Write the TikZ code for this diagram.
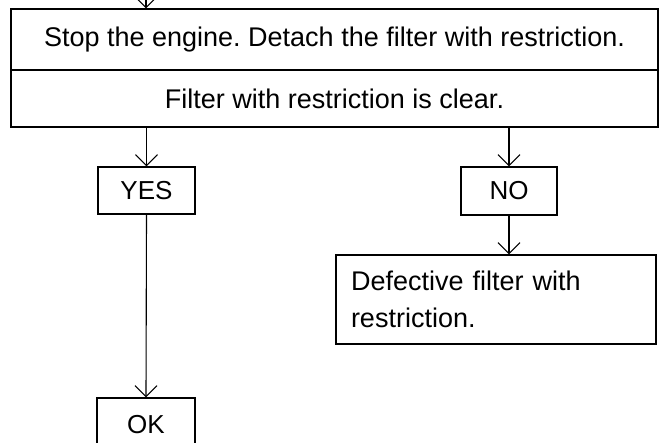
\documentclass[tikz,border=0pt]{standalone}
\usepackage{fontspec}
\setmainfont{Liberation Sans}
\usetikzlibrary{arrows.meta}
\frenchspacing
\begin{document}
\begin{tikzpicture}[x=1pt,y=-1pt,
  box/.style={draw=black, line width=1.2pt, inner sep=0pt, font=\fontsize{26}{36}\selectfont},
  bigtext/.style={font=\fontsize{27}{37}\selectfont},
  conn/.style={draw=black, line width=1.1pt, -{Straight Barb[length=11pt,width=22pt,line width=1.1pt]}}]
\useasboundingbox (0,0) rectangle (660,443);
\node[box, bigtext, minimum width=647, minimum height=61] (stop) at (334.5,39.5) {Stop the engine. Detach the filter with restriction.};
\node[box, bigtext, minimum width=647, minimum height=57] (clear) at (334.5,98.5) {Filter with restriction is clear.};
\node[box, minimum width=97, minimum height=47] (yes) at (146.5,190.5) {YES};
\node[box, minimum width=96, minimum height=48] (no) at (509,191) {NO};
\node[box, bigtext, minimum width=320, minimum height=89, text width=290, align=left, inner xsep=15pt] (def) at (496,299.5) {Defective filter with\\restriction.};
\node[box, minimum width=98, minimum height=54] (ok) at (146,425) {OK};
\coordinate (in) at (146,-3);
\draw[conn] (in) -- (in |- stop.north);
\draw[conn] (clear.south -| yes.north) -- (yes.north);
\draw[conn] (clear.south -| no.north) -- (no.north);
\draw[conn] (no.south) -- (no.south |- def.north);
\draw[conn] (yes.south) -- (ok.north);
\end{tikzpicture}
\end{document}
